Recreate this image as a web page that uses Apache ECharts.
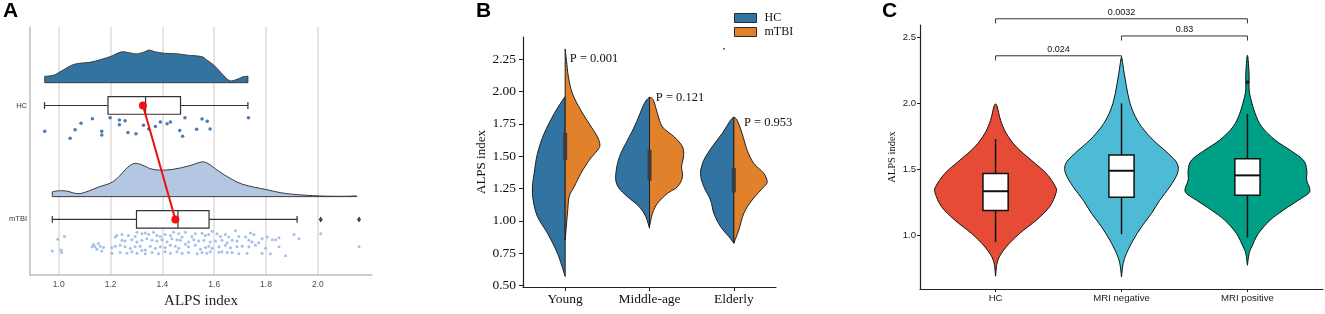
<!DOCTYPE html>
<html>
<head>
<meta charset="utf-8">
<title>ALPS index</title>
<script src="https://cdn.jsdelivr.net/npm/echarts@6/dist/echarts.min.js"></script>
<style>
html, body { margin: 0; padding: 0; background: #fff; }
#main { width: 1325px; height: 314px; }
</style>
</head>
<body>
<div id="main"></div>
<script>
// ---------- panel A : raincloud ----------
var rowsA = ['HC', 'mTBI'];
var ticksA = [1.0, 1.2, 1.4, 1.6, 1.8, 2.0];
// [ALPS index, density height]
var densHC = [[0.946,6.6],[0.98,7.7],[1.01,12],[1.05,18],[1.08,20],[1.12,21],[1.16,23.7],[1.2,27],[1.24,31.7],[1.27,31],[1.30,29.7],[1.33,31.7],[1.35,33.7],[1.37,32],[1.41,30.3],[1.46,29.7],[1.50,28.3],[1.55,27],[1.57,23.7],[1.60,17.7],[1.63,9.3],[1.66,2],[1.69,3.7],[1.71,6],[1.73,6.7]];
var densMTBI = [[0.975,5],[1.0,6],[1.03,5.7],[1.075,3],[1.115,5.7],[1.155,10],[1.2,14],[1.23,20],[1.265,30],[1.295,34.3],[1.33,31.7],[1.36,28.3],[1.41,27.3],[1.465,29.3],[1.515,32.7],[1.55,35.7],[1.575,34.3],[1.615,26.7],[1.665,18.3],[1.715,12.3],[1.8,7.3],[1.875,3.3],[1.98,1],[2.08,0.3],[2.15,0.7]];
// min, q1, median, q3, max
var boxA = [[0.945,1.19,1.335,1.47,1.73],[0.975,1.30,1.46,1.58,1.92]];
var meanA = [1.325, 1.45];
var outliersMTBI = [2.011, 2.159];
// [ALPS index, jitter]
var pointsHC = [[0.946,0.226],[1.044,0.288],[1.063,0.212],[1.086,0.156],[1.130,0.116],[1.166,0.226],[1.166,0.260],[1.198,0.108],[1.234,0.127],[1.234,0.169],[1.256,0.133],[1.267,0.237],[1.298,0.249],[1.327,0.173],[1.347,0.207],[1.373,0.184],[1.392,0.144],[1.418,0.161],[1.431,0.144],[1.467,0.220],[1.478,0.269],[1.487,0.108],[1.532,0.209],[1.553,0.119],[1.573,0.139],[1.584,0.207],[1.732,0.108]];
var pointsMTBI = [
  [0.996,0.175],[1.022,0.150],[0.975,0.277],[1.009,0.268],[1.011,0.291],
  [1.134,0.220],[1.153,0.212],[1.140,0.240],[1.160,0.235],[1.173,0.246],[1.128,0.240],[1.147,0.263],[1.166,0.277],[1.205,0.249],
  [1.218,0.155],[1.224,0.141],[1.244,0.133],[1.269,0.141],[1.295,0.150],[1.302,0.113],[1.321,0.127],[1.334,0.119],[1.347,0.133],[1.366,0.113],[1.379,0.141],[1.392,0.150],[1.411,0.133],[1.431,0.141],[1.443,0.113],[1.463,0.127],[1.476,0.155],[1.489,0.113],[1.514,0.150],[1.527,0.127],[1.553,0.122],[1.566,0.141],[1.579,0.133],[1.592,0.105],[1.611,0.127],[1.624,0.150],[1.643,0.133],[1.656,0.155],[1.682,0.099],[1.695,0.150],[1.721,0.155],[1.740,0.119],[1.753,0.133],[1.785,0.170],[1.805,0.155],[1.824,0.178],[1.850,0.161],[1.908,0.133],[1.927,0.170],
  [1.244,0.184],[1.256,0.189],[1.282,0.178],[1.302,0.198],[1.321,0.184],[1.340,0.170],[1.360,0.184],[1.379,0.189],[1.398,0.178],[1.418,0.198],[1.437,0.170],[1.456,0.178],[1.469,0.184],[1.501,0.198],[1.521,0.178],[1.540,0.189],[1.560,0.184],[1.585,0.198],[1.605,0.189],[1.630,0.184],[1.650,0.206],[1.669,0.184],[1.688,0.189],[1.734,0.184],[1.746,0.198],[1.772,0.206],[1.837,0.178],
  [1.218,0.235],[1.237,0.226],[1.256,0.240],[1.276,0.254],[1.295,0.240],[1.314,0.235],[1.334,0.268],[1.353,0.235],[1.373,0.254],[1.392,0.240],[1.411,0.246],[1.431,0.226],[1.450,0.235],[1.463,0.254],[1.489,0.218],[1.501,0.240],[1.527,0.226],[1.547,0.263],[1.566,0.246],[1.579,0.235],[1.592,0.254],[1.618,0.240],[1.643,0.226],[1.663,0.249],[1.688,0.240],[1.708,0.235],[1.734,0.240],[1.759,0.226],[1.798,0.254],[1.850,0.240],
  [1.205,0.297],[1.237,0.291],[1.263,0.297],[1.282,0.283],[1.302,0.297],[1.321,0.274],[1.334,0.302],[1.360,0.291],[1.385,0.302],[1.411,0.283],[1.431,0.297],[1.456,0.283],[1.476,0.297],[1.501,0.291],[1.534,0.302],[1.553,0.291],[1.572,0.297],[1.585,0.283],[1.618,0.288],[1.630,0.283],[1.650,0.291],[1.669,0.291],[1.695,0.302],[1.727,0.297],[1.785,0.297],[1.817,0.302],[1.875,0.319],
  [2.011,0.127],[2.159,0.240]
];

// ---------- panel B : split violins ----------
var categoriesB = ['Young', 'Middle-age', 'Elderly'];
var ticksB = [0.5, 0.75, 1.0, 1.25, 1.5, 1.75, 2.0, 2.25];
// [ALPS index, half width]
var violinHC = [
  [[0.572,0],[0.75,7.7],[0.905,17.7],[1.033,27.7],[1.162,32],[1.264,32.7],[1.367,31],[1.521,27.7],[1.675,21],[1.828,11],[1.931,2.7],[1.96,0]],
  [[0.944,0],[1.033,3.7],[1.110,10.3],[1.187,22],[1.251,30.3],[1.315,33.7],[1.418,32.7],[1.521,28.7],[1.623,22],[1.751,13.7],[1.905,5.3],[1.956,0]],
  [[0.828,0],[0.879,5],[0.956,13.3],[1.059,20],[1.162,23.3],[1.264,30],[1.367,33.3],[1.469,30],[1.572,21.7],[1.675,11.7],[1.777,3.3],[1.802,0]]
];
var violinMTBI = [
  [[0.854,0],[1.059,2.3],[1.187,4],[1.264,9],[1.367,15.7],[1.469,24],[1.546,32.3],[1.585,34.7],[1.649,32.3],[1.751,24],[1.854,15.7],[1.982,7.3],[2.11,3.3],[2.238,1.3],[2.328,0]],
  [[0.957,0],[1.059,3],[1.136,8],[1.213,18],[1.264,28],[1.341,33],[1.418,32],[1.495,34],[1.572,33],[1.649,24.7],[1.726,13],[1.828,8],[1.931,4],[1.956,0]],
  [[0.828,0],[0.931,5],[1.059,10],[1.162,18.3],[1.264,30],[1.302,33.3],[1.367,30],[1.444,20],[1.546,13.3],[1.675,8.3],[1.777,3.3],[1.802,0]]
];
// q1, q3 of inner box
var innerB = [[1.47,1.68],[1.31,1.55],[1.22,1.41]];
var pTextB = ['P = 0.001', 'P = 0.121', 'P = 0.953'];
var pYB = [2.25, 1.95, 1.76];
var strayB = [[2.884, 2.33]];

// ---------- panel C : violins + boxes ----------
var categoriesC = ['HC', 'MRI negative', 'MRI positive'];
var ticksC = [1.0, 1.5, 2.0, 2.5];
var violinC = [
  [[0.692,0],[0.813,2.3],[0.914,10.7],[1.015,24],[1.116,40.7],[1.217,54],[1.318,60.3],[1.368,60],[1.47,50.7],[1.57,35.7],[1.671,20.7],[1.773,10.7],[1.873,5],[1.974,1.7],[1.995,0]],
  [[0.686,0],[0.788,1.7],[0.864,5],[0.965,11.7],[1.066,20],[1.167,30],[1.267,38.3],[1.368,48.3],[1.47,56],[1.545,55.7],[1.621,46.7],[1.722,31.7],[1.823,20],[1.924,12.3],[2.025,7.7],[2.126,5],[2.227,2.7],[2.328,0.7],[2.35,0]],
  [[0.775,0],[0.864,1.7],[0.914,4.3],[1.015,11],[1.116,22.7],[1.192,36],[1.267,51],[1.318,61],[1.356,62.3],[1.419,59.3],[1.495,59.3],[1.57,56],[1.646,42.7],[1.722,27.7],[1.823,14.3],[1.924,7.7],[2.025,3.7],[2.101,1.7],[2.202,1.7],[2.303,1],[2.364,0]]
];
var boxC = [[0.95,1.19,1.335,1.47,1.73],[1.01,1.29,1.49,1.61,2.0],[0.985,1.305,1.455,1.58,1.92]];
var outliersC = [[3, 2.16]];
var bracketPairs = [[1, 2], [2, 3], [1, 3]];
var bracketY = [2.36, 2.51, 2.64];
var bracketText = ['0.024', '0.83', '0.0032'];

// ---------- layout constants ----------
var SERIF = 'Liberation Serif', SANS = 'Liberation Sans';
var DENS_A = 1 / 117.5, DENS_BASE = -0.2, BOX_A_HALF = 0.077, CAP_A = 0.03;
var VIOLIN_B = 1 / 84.3, VIOLIN_C = 1 / 126, BOX_C_HALF = 0.1, BR_DROP = 0.035;
var pOffsetB = [0.055, 0.075, 0.12];
var colorsC = ['#E64B35', '#4DBBD5', '#00A087'];
var densColors = ['#33739f', '#b3c7e2'];

function smoothSegs(pts) {
  var d = '';
  for (var i = 0; i < pts.length - 1; i++) {
    var p0 = pts[i - 1] || pts[i], p1 = pts[i], p2 = pts[i + 1], p3 = pts[i + 2] || pts[i + 1];
    var c1 = [p1[0] + (p2[0] - p0[0]) / 6, p1[1] + (p2[1] - p0[1]) / 6];
    var c2 = [p2[0] - (p3[0] - p1[0]) / 6, p2[1] - (p3[1] - p1[1]) / 6];
    d += ' C' + c1.join(',') + ' ' + c2.join(',') + ' ' + p2.join(',');
  }
  return d;
}

function renderDensity(params, api) {
  var i = params.dataIndex, dens = [densHC, densMTBI][i];
  var base = i + 1 + DENS_BASE;
  var top = dens.map(function (p) { return api.coord([p[0], base - p[1] * DENS_A]); });
  var b0 = api.coord([dens[0][0], base]), b1 = api.coord([dens[dens.length - 1][0], base]);
  var d = 'M' + b0.join(',') + ' L' + top[0].join(',') + smoothSegs(top) + ' L' + b1.join(',') + ' Z';
  return { type: 'path', shape: { pathData: d }, style: { fill: densColors[i], stroke: '#3b3b3b', lineWidth: 1 } };
}

function renderBoxA(params, api) {
  var i = params.dataIndex, row = i + 1, b = boxA[i];
  var pMin = api.coord([b[0], row]), pQ1 = api.coord([b[1], row]), pMed = api.coord([b[2], row]);
  var pQ3 = api.coord([b[3], row]), pMax = api.coord([b[4], row]);
  var hh = Math.abs(api.size([0, BOX_A_HALF])[1]), ch = Math.abs(api.size([0, CAP_A])[1]);
  var st = { stroke: '#333', lineWidth: 1.2 };
  return { type: 'group', children: [
    { type: 'line', shape: { x1: pMin[0], y1: pMin[1], x2: pQ1[0], y2: pQ1[1] }, style: st },
    { type: 'line', shape: { x1: pQ3[0], y1: pQ3[1], x2: pMax[0], y2: pMax[1] }, style: st },
    { type: 'line', shape: { x1: pMin[0], y1: pMin[1] - ch, x2: pMin[0], y2: pMin[1] + ch }, style: st },
    { type: 'line', shape: { x1: pMax[0], y1: pMax[1] - ch, x2: pMax[0], y2: pMax[1] + ch }, style: st },
    { type: 'rect', shape: { x: pQ1[0], y: pQ1[1] - hh, width: pQ3[0] - pQ1[0], height: 2 * hh }, style: { fill: '#fff', stroke: '#333', lineWidth: 1.2 } },
    { type: 'line', shape: { x1: pMed[0], y1: pMed[1] - hh, x2: pMed[0], y2: pMed[1] + hh }, style: st }
  ] };
}

function halfViolin(shapes, side) {
  return function (params, api) {
    var i = params.dataIndex, cat = i + 1;
    var pts = shapes[i].map(function (p) { return api.coord([cat + side * p[1] * VIOLIN_B, p[0]]); });
    var d = 'M' + pts[0].join(',') + smoothSegs(pts) + ' Z';
    return { type: 'path', shape: { pathData: d }, style: { fill: api.visual('color'), stroke: '#1e1e1e', lineWidth: 1 } };
  };
}

function renderInnerB(params, api) {
  var i = params.dataIndex, q = innerB[i];
  var lo = api.coord([i + 1, q[0]]), hi = api.coord([i + 1, q[1]]);
  return { type: 'rect', shape: { x: hi[0] - 2, y: hi[1], width: 4, height: lo[1] - hi[1] }, style: { fill: '#3d3d3d' } };
}

function renderPText(params, api) {
  var i = params.dataIndex, p = api.coord([i + 1 + pOffsetB[i], pYB[i]]);
  return { type: 'text', x: p[0], y: p[1], style: { text: pTextB[i], fill: '#111', fontSize: 12.5, fontFamily: SERIF, align: 'left', verticalAlign: 'middle' } };
}

function renderViolinC(params, api) {
  var i = params.dataIndex, cat = i + 1, sh = violinC[i];
  var left = sh.map(function (p) { return api.coord([cat - p[1] * VIOLIN_C, p[0]]); });
  var right = sh.slice(0, -1).reverse().map(function (p) { return api.coord([cat + p[1] * VIOLIN_C, p[0]]); });
  var all = left.concat(right);
  var d = 'M' + all[0].join(',') + smoothSegs(all) + ' Z';
  return { type: 'path', shape: { pathData: d }, style: { fill: colorsC[i], stroke: '#111', lineWidth: 1 } };
}

function renderBoxC(params, api) {
  var i = params.dataIndex, cat = i + 1, b = boxC[i];
  var pMin = api.coord([cat, b[0]]), pQ1 = api.coord([cat, b[1]]), pMed = api.coord([cat, b[2]]);
  var pQ3 = api.coord([cat, b[3]]), pMax = api.coord([cat, b[4]]);
  var hw = api.size([BOX_C_HALF, 0])[0];
  var st = { stroke: '#111', lineWidth: 1.5 };
  return { type: 'group', children: [
    { type: 'line', shape: { x1: pMin[0], y1: pMin[1], x2: pQ1[0], y2: pQ1[1] }, style: st },
    { type: 'line', shape: { x1: pQ3[0], y1: pQ3[1], x2: pMax[0], y2: pMax[1] }, style: st },
    { type: 'rect', shape: { x: pQ3[0] - hw, y: pQ3[1], width: 2 * hw, height: pQ1[1] - pQ3[1] }, style: { fill: '#fff', stroke: '#111', lineWidth: 1.5 } },
    { type: 'line', shape: { x1: pMed[0] - hw, y1: pMed[1], x2: pMed[0] + hw, y2: pMed[1] }, style: { stroke: '#111', lineWidth: 2 } }
  ] };
}

function renderBracket(params, api) {
  var i = params.dataIndex, pr = bracketPairs[i], y = bracketY[i];
  var a = api.coord([pr[0], y]), b = api.coord([pr[1], y]);
  var a0 = api.coord([pr[0], y - BR_DROP]), b0 = api.coord([pr[1], y - BR_DROP]);
  return { type: 'group', children: [
    { type: 'polyline', shape: { points: [a0, a, b, b0] }, style: { stroke: '#333', lineWidth: 1, fill: 'none' } },
    { type: 'text', x: (a[0] + b[0]) / 2, y: a[1] - 2, style: { text: bracketText[i], fill: '#111', fontSize: 9, fontFamily: SANS, align: 'center', verticalAlign: 'bottom' } }
  ] };
}

var chart = echarts.init(document.getElementById('main'));
chart.setOption({
  animation: false,
  backgroundColor: '#fff',
  textStyle: { fontFamily: SANS },
  title: [
    { text: 'A', left: 3, top: 1, padding: 0, textStyle: { fontSize: 21, fontWeight: 'bold', color: '#000', fontFamily: SANS } },
    { text: 'B', left: 476, top: 1, padding: 0, textStyle: { fontSize: 21, fontWeight: 'bold', color: '#000', fontFamily: SANS } },
    { text: 'C', left: 882, top: 1, padding: 0, textStyle: { fontSize: 21, fontWeight: 'bold', color: '#000', fontFamily: SANS } }
  ],
  legend: {
    data: ['HC', 'mTBI'], orient: 'vertical', left: 734, top: 12, padding: 0, itemGap: 2,
    itemWidth: 22, itemHeight: 9, icon: 'rect', selectedMode: false,
    itemStyle: { borderColor: '#2a2a2a', borderWidth: 1 },
    textStyle: { fontFamily: SERIF, fontSize: 12, color: '#111', padding: [0, 0, 0, 3] }
  },
  grid: [
    { left: 30, top: 27, width: 342, height: 256 },
    { left: 523, top: 37, width: 253, height: 250 },
    { left: 920, top: 25, width: 403, height: 264 }
  ],
  xAxis: [
    { type: 'value', gridIndex: 0, min: 0.889, max: 2.209,
      name: 'ALPS index', nameLocation: 'middle', nameGap: 18,
      nameTextStyle: { fontFamily: SERIF, fontSize: 15, color: '#222' },
      axisLine: { lineStyle: { color: '#bdbdbd', width: 1.5 } },
      axisTick: { show: false, customValues: ticksA },
      axisLabel: { customValues: ticksA, formatter: function (v) { return v.toFixed(1); }, fontSize: 8.5, color: '#4d4d4d', margin: 5 },
      splitLine: { show: true, lineStyle: { color: '#dcdcdc', width: 1.5 } } },
    { type: 'value', gridIndex: 1, min: 0.5, max: 3.5,
      axisLine: { lineStyle: { color: '#222', width: 1.2 } },
      axisTick: { show: true, customValues: [1, 2, 3], length: 4, lineStyle: { color: '#222' } },
      axisLabel: { customValues: [1, 2, 3], formatter: function (v) { return categoriesB[Math.round(v) - 1]; }, fontFamily: SERIF, fontSize: 13.5, color: '#111', margin: 5 },
      splitLine: { show: false } },
    { type: 'value', gridIndex: 2, min: 0.4, max: 3.6,
      axisLine: { lineStyle: { color: '#222', width: 1.2 } },
      axisTick: { show: true, customValues: [1, 2, 3], length: 3, lineStyle: { color: '#222' } },
      axisLabel: { customValues: [1, 2, 3], formatter: function (v) { return categoriesC[Math.round(v) - 1]; }, fontSize: 9.6, color: '#1a1a1a', margin: 4 },
      splitLine: { show: false } }
  ],
  yAxis: [
    { type: 'value', gridIndex: 0, inverse: true, min: 0.311, max: 2.489,
      axisLine: { show: true, lineStyle: { color: '#bdbdbd', width: 1.5 } },
      axisTick: { show: false },
      axisLabel: { customValues: [1, 2], formatter: function (v) { return rowsA[Math.round(v) - 1]; }, fontSize: 7.5, color: '#333', margin: 3 },
      splitLine: { show: false } },
    { type: 'value', gridIndex: 1, min: 0.49, max: 2.42,
      name: 'ALPS index', nameLocation: 'middle', nameGap: 26,
      nameTextStyle: { fontFamily: SERIF, fontSize: 13, color: '#111' },
      axisLine: { show: true, lineStyle: { color: '#222', width: 1.2 } },
      axisTick: { show: true, customValues: ticksB, length: 4, lineStyle: { color: '#222' } },
      axisLabel: { customValues: ticksB, formatter: function (v) { return v.toFixed(2); }, fontFamily: SERIF, fontSize: 13.5, color: '#111', margin: 7 },
      splitLine: { show: false } },
    { type: 'value', gridIndex: 2, min: 0.595, max: 2.593,
      name: 'ALPS index', nameLocation: 'middle', nameGap: 22,
      nameTextStyle: { fontFamily: SERIF, fontSize: 10.5, color: '#111' },
      axisLine: { show: true, lineStyle: { color: '#222', width: 1.2 } },
      axisTick: { show: true, customValues: ticksC, length: 3, lineStyle: { color: '#222' } },
      axisLabel: { customValues: ticksC, formatter: function (v) { return v.toFixed(1); }, fontSize: 9.6, color: '#1a1a1a', margin: 4 },
      splitLine: { show: false } }
  ],
  series: [
    // panel A
    { name: 'density A', type: 'custom', xAxisIndex: 0, yAxisIndex: 0, renderItem: renderDensity,
      data: rowsA.map(function (r, i) { return [boxA[i][2], i + 1]; }), z: 2 },
    { name: 'box A', type: 'custom', xAxisIndex: 0, yAxisIndex: 0, renderItem: renderBoxA,
      data: rowsA.map(function (r, i) { return [boxA[i][2], i + 1]; }), z: 3 },
    { name: 'points HC', type: 'scatter', xAxisIndex: 0, yAxisIndex: 0, symbolSize: 3.5,
      itemStyle: { color: '#1b5b9c' }, data: pointsHC.map(function (p) { return [p[0], 1 + p[1]]; }), z: 4 },
    { name: 'points mTBI', type: 'scatter', xAxisIndex: 0, yAxisIndex: 0, symbolSize: 3,
      itemStyle: { color: '#8eb0e6' }, data: pointsMTBI.map(function (p) { return [p[0], 2 + p[1]]; }), z: 4 },
    { name: 'outliers A', type: 'scatter', xAxisIndex: 0, yAxisIndex: 0, symbol: 'diamond', symbolSize: [4, 6],
      itemStyle: { color: '#111' }, data: outliersMTBI.map(function (v) { return [v, 2]; }), z: 4 },
    { name: 'means A', type: 'line', xAxisIndex: 0, yAxisIndex: 0, symbol: 'circle', symbolSize: 8,
      lineStyle: { color: '#ee1111', width: 2 }, itemStyle: { color: '#ee1111' },
      data: meanA.map(function (v, i) { return [v, i + 1]; }), z: 6 },
    // panel B
    { name: 'HC', type: 'custom', xAxisIndex: 1, yAxisIndex: 1, renderItem: halfViolin(violinHC, -1),
      itemStyle: { color: '#3274a1' }, data: categoriesB.map(function (c, i) { return [i + 1, 1.5]; }), z: 2 },
    { name: 'mTBI', type: 'custom', xAxisIndex: 1, yAxisIndex: 1, renderItem: halfViolin(violinMTBI, 1),
      itemStyle: { color: '#e1812c' }, data: categoriesB.map(function (c, i) { return [i + 1, 1.5]; }), z: 2 },
    { name: 'inner B', type: 'custom', xAxisIndex: 1, yAxisIndex: 1, renderItem: renderInnerB,
      data: categoriesB.map(function (c, i) { return [i + 1, innerB[i][0]]; }), z: 3 },
    { name: 'p B', type: 'custom', xAxisIndex: 1, yAxisIndex: 1, renderItem: renderPText, clip: false,
      data: categoriesB.map(function (c, i) { return [i + 1, pYB[i]]; }), z: 4 },
    { name: 'stray B', type: 'scatter', xAxisIndex: 1, yAxisIndex: 1, symbolSize: 2,
      itemStyle: { color: '#333' }, data: strayB },
    // panel C
    { name: 'violin C', type: 'custom', xAxisIndex: 2, yAxisIndex: 2, renderItem: renderViolinC,
      data: categoriesC.map(function (c, i) { return [i + 1, boxC[i][2]]; }), z: 2 },
    { name: 'box C', type: 'custom', xAxisIndex: 2, yAxisIndex: 2, renderItem: renderBoxC,
      data: categoriesC.map(function (c, i) { return [i + 1, boxC[i][2]]; }), z: 3 },
    { name: 'outlier C', type: 'scatter', xAxisIndex: 2, yAxisIndex: 2, symbolSize: 4,
      itemStyle: { color: '#111' }, data: outliersC, z: 4 },
    { name: 'brackets C', type: 'custom', xAxisIndex: 2, yAxisIndex: 2, renderItem: renderBracket, clip: false,
      data: bracketPairs.map(function (p, i) { return [p[0], bracketY[i]]; }), z: 4 }
  ]
});
</script>
</body>
</html>
